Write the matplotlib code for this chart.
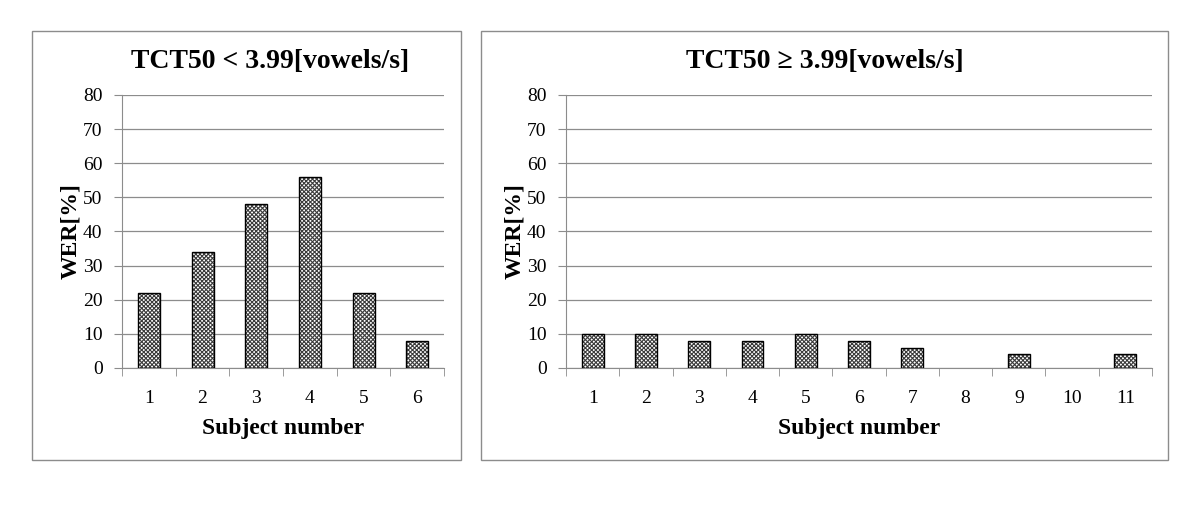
import matplotlib
matplotlib.use("Agg")
import matplotlib.pyplot as plt
from matplotlib.patches import Rectangle

# data
subjects_low = [1, 2, 3, 4, 5, 6]
wer_low = [22, 34, 48, 56, 22, 8]
subjects_high = [1, 2, 3, 4, 5, 6, 7, 8, 9, 10, 11]
wer_high = [10, 10, 8, 8, 10, 8, 6, 0, 4, 0, 4]
titles = ["TCT50 < 3.99[vowels/s]", "TCT50 \u2265 3.99[vowels/s]"]
yticks = list(range(0, 90, 10))

plt.rcParams["font.family"] = ["Liberation Serif", "DejaVu Serif"]
plt.rcParams["hatch.linewidth"] = 0.8

fig = plt.figure(figsize=(12, 5.08), dpi=100)

# outer chart boxes (figure coords)
boxes = [(0.0267, 0.0945, 0.384 - 0.0267, 0.939 - 0.0945),
         (0.401, 0.0945, 0.973 - 0.401, 0.939 - 0.0945)]
for b in boxes:
    fig.patches.append(Rectangle(b[:2], b[2], b[3], transform=fig.transFigure,
                                 fill=False, edgecolor="#8c8c8c", lw=1.0))

axes_pos = [(0.1017, 0.2756, 0.37 - 0.1017, 0.813 - 0.2756),
            (0.4717, 0.2756, 0.96 - 0.4717, 0.813 - 0.2756)]
data = [(subjects_low, wer_low), (subjects_high, wer_high)]
title_x = [(boxes[0][0] + boxes[0][0] + boxes[0][2]) / 2 + 0.02,
           (boxes[1][0] + boxes[1][0] + boxes[1][2]) / 2]

for pos, (xs, ys), title, tx in zip(axes_pos, data, titles, title_x):
    ax = fig.add_axes(pos)
    edge = ["black" if v > 0 else "none" for v in ys]
    ax.bar(xs, ys, width=0.41, facecolor="white", edgecolor="#3a3a3a",
           hatch="xxxxxxxx", lw=0, zorder=3)
    ax.bar(xs, ys, width=0.41, fill=False, edgecolor=edge, lw=1.0, zorder=4)
    ax.set_xlim(0.5, len(xs) + 0.5)
    ax.set_ylim(0, 80)
    ax.set_yticks(yticks)
    ax.yaxis.grid(True, color="#8c8c8c", lw=0.9)
    ax.set_axisbelow(True)
    ax.set_xticks(xs)
    ax.set_xticks([x + 0.5 for x in [0] + xs], minor=True)
    ax.tick_params(axis="x", which="major", length=0, pad=16, labelsize=14)
    ax.tick_params(axis="x", which="minor", length=6, color="#8c8c8c", direction="out")
    ax.tick_params(axis="y", length=6, color="#8c8c8c", labelsize=14, pad=8)
    for s in ["top", "right"]:
        ax.spines[s].set_visible(False)
    for s in ["left", "bottom"]:
        ax.spines[s].set_color("#8c8c8c")
    ax.set_xlabel("Subject number", fontsize=17, fontweight="bold", labelpad=8)
    ax.set_ylabel("WER[%]", fontsize=17, fontweight="bold", labelpad=1)
    fig.text(tx, 0.878, title, ha="center", va="center", fontsize=20,
             fontweight="bold", family=["Liberation Serif", "DejaVu Serif"])

fig.savefig("out.png", dpi=100)
